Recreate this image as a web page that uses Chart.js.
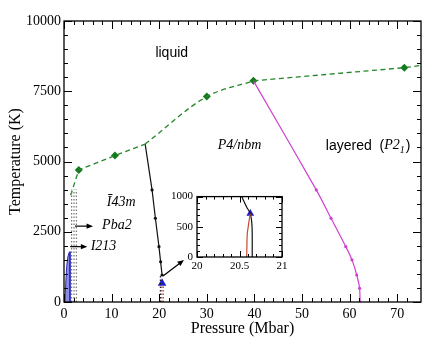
<!DOCTYPE html>
<html>
<head>
<meta charset="utf-8">
<script src="https://cdn.jsdelivr.net/npm/chart.js@4.4.1/dist/chart.umd.min.js"></script>
<style>
  html, body { margin: 0; padding: 0; background: #fff; }
  #wrap { position: relative; width: 438px; height: 342px; }
  #main { position: absolute; left: 0; top: 0; }
  #inset { position: absolute; left: 160px; top: 186px; }
</style>
</head>
<body>
<div id="wrap">
  <canvas id="main" width="438" height="342"></canvas>
  <canvas id="inset" width="132" height="92"></canvas>
</div>
<script>
// melting line (green dashed): straight part, curved part, straight tail
const meltP1 = [1.4, 3.1, 10.7, 17.05];
const meltT1 = [3800, 4700, 5210, 5620];
const meltP2 = [17.05, 30.0, 39.8];
const meltT2 = [5620, 7310, 7870];
const meltP3 = [39.8, 71.5, 75];
const meltT3 = [7870, 8340, 8420];
const meltMarkP = [3.1, 10.7, 30.0, 39.8, 71.5];
const meltMarkT = [4700, 5210, 7310, 7870, 8340];

// I-43m / P4/nbm boundary (black)
const bndP = [17.05, 18.5, 19.2, 19.95, 20.3, 20.6];
const bndT = [5620, 3990, 2980, 1970, 1430, 960];

// P4/nbm / layered boundary (magenta)
const layP = [39.8, 53.0, 56.1, 59.2, 60.5, 61.5, 62.1, 62.2];
const layT = [7870, 3990, 2980, 1970, 1500, 960, 490, 0];

// blue region at low pressure
const blueP = [0.2, 0.35, 0.56, 0.8, 1.05, 1.26, 1.26];
const blueT = [0, 600, 1260, 1600, 1750, 1790, 0];

// dotted verticals
const greyDotP = [1.6, 2.1, 2.6];
const greyDotTop = 4000;
const blackDotP = 20.25, blackDotTop = 950;
const redDotP = [20.55, 20.85];
const redDotTop = 600;
const triP = 20.6, triT = 670;

// inset
const inBlackP = [20.526, 20.59, 20.627, 20.647, 20.65];
const inBlackT = [1000, 812, 719, 526, 0];
const inRedP = [20.627, 20.6, 20.588, 20.585];
const inRedT = [719, 473, 265, 0];
const inTriP = 20.627, inTriT = 719;

const xTickLabels = [0, 10, 20, 30, 40, 50, 60, 70];
const yTickLabels = [0, 2500, 5000, 7500, 10000];

const SERIF = '"Liberation Serif", "DejaVu Serif", serif';
const SANS = '"Liberation Sans", Arial, sans-serif';
const GREEN = '#23872a';
const MAGENTA = '#d040d0';

function pts(xs, ys) {
  return xs.map((x, i) => ({ x: x, y: ys[i] }));
}

function vline(x, top, color) {
  return {
    data: [{ x: x, y: 0 }, { x: x, y: top }],
    showLine: true, borderColor: color, borderWidth: 1.2,
    borderDash: [1.5, 2], pointRadius: 0
  };
}

function greenLine(xs, ys, mode) {
  return {
    data: pts(xs, ys), showLine: true, borderColor: GREEN, borderWidth: 1.3,
    borderDash: [5, 3.5], cubicInterpolationMode: mode, pointRadius: 0
  };
}

// inward ticks on all four sides plus a closed frame
function frameTicks(major, minor, xMajor, yMajor) {
  return {
    id: 'frameTicks',
    afterDraw(chart) {
      const ctx = chart.ctx;
      const a = chart.chartArea;
      const xs = chart.scales.x, ys = chart.scales.y;
      ctx.save();
      ctx.strokeStyle = '#000';
      ctx.lineWidth = 1.3;
      ctx.strokeRect(a.left, a.top, a.right - a.left, a.bottom - a.top);
      ctx.lineWidth = 1;
      ctx.beginPath();
      xs.ticks.forEach(t => {
        const r = t.value / xs.options.ticks.stepSize;
        if (Math.abs(r - Math.round(r)) > 1e-6) return;
        const isMajor = Math.abs(t.value / xMajor - Math.round(t.value / xMajor)) < 1e-6;
        const len = isMajor ? major : minor;
        const px = Math.round(xs.getPixelForValue(t.value)) + 0.5;
        ctx.moveTo(px, a.bottom); ctx.lineTo(px, a.bottom - len);
        ctx.moveTo(px, a.top); ctx.lineTo(px, a.top + len);
      });
      ys.ticks.forEach(t => {
        const isMajor = Math.abs(t.value / yMajor - Math.round(t.value / yMajor)) < 1e-6;
        const len = isMajor ? major : minor;
        const py = Math.round(ys.getPixelForValue(t.value)) + 0.5;
        ctx.moveTo(a.left, py); ctx.lineTo(a.left + len, py);
        ctx.moveTo(a.right, py); ctx.lineTo(a.right - len, py);
      });
      ctx.stroke();
      ctx.restore();
    }
  };
}

// text labels and arrows placed in data coordinates
const notes = {
  id: 'notes',
  afterDraw(chart) {
    const ctx = chart.ctx;
    const xs = chart.scales.x, ys = chart.scales.y;
    const X = v => xs.getPixelForValue(v), Y = v => ys.getPixelForValue(v);
    ctx.save();
    ctx.fillStyle = '#000';
    ctx.textBaseline = 'middle';
    ctx.font = '14px ' + SANS;
    ctx.fillText('liquid', X(19.2), Y(8860));
    ctx.font = 'italic 14px ' + SERIF;
    ctx.fillText('P4/nbm', X(32.3), Y(5580));
    ctx.fillText('Ī43m', X(9.0), Y(3550));
    ctx.fillText('Pba2', X(8.0), Y(2720));
    ctx.fillText('I213', X(5.6), Y(1970));
    // layered (P2_1)
    ctx.font = '14px ' + SANS;
    let x0 = X(55.0);
    ctx.fillText('layered  (', x0, Y(5560));
    x0 += ctx.measureText('layered  (').width;
    ctx.font = 'italic 14px ' + SERIF;
    ctx.fillText('P2', x0, Y(5580));
    x0 += ctx.measureText('P2').width;
    ctx.font = 'italic 10px ' + SERIF;
    ctx.fillText('1', x0, Y(5380));
    x0 += ctx.measureText('1').width + 1;
    ctx.font = '14px ' + SANS;
    ctx.fillText(')', x0, Y(5560));

    // arrows
    const arrows = [[2.3, 2700, 6.1, 2700], [1.3, 1970, 4.9, 1970], [20.8, 925, 25.2, 1495]];
    ctx.strokeStyle = '#000';
    ctx.lineWidth = 1.2;
    arrows.forEach(a => {
      const x1 = X(a[0]), y1 = Y(a[1]), x2 = X(a[2]), y2 = Y(a[3]);
      const ang = Math.atan2(y2 - y1, x2 - x1);
      ctx.beginPath();
      ctx.moveTo(x1, y1); ctx.lineTo(x2 - 4 * Math.cos(ang), y2 - 4 * Math.sin(ang));
      ctx.stroke();
      ctx.beginPath();
      ctx.moveTo(x2, y2);
      ctx.lineTo(x2 - 7 * Math.cos(ang - 0.4), y2 - 7 * Math.sin(ang - 0.4));
      ctx.lineTo(x2 - 7 * Math.cos(ang + 0.4), y2 - 7 * Math.sin(ang + 0.4));
      ctx.closePath();
      ctx.fill();
    });
    ctx.restore();
  }
};

const mainDatasets = [
  {
    data: pts(blueP, blueT), showLine: true, fill: 'origin',
    backgroundColor: 'rgba(90,90,220,0.7)', borderColor: '#2a2ab0', borderWidth: 1,
    pointRadius: 0
  },
  ...greyDotP.map(p => vline(p, greyDotTop, '#777')),
  vline(blackDotP, blackDotTop, '#222'),
  ...redDotP.map(p => vline(p, redDotTop, '#c0392b')),
  greenLine(meltP1, meltT1, 'default'),
  greenLine(meltP2, meltT2, 'monotone'),
  greenLine(meltP3, meltT3, 'default'),
  {
    data: pts(bndP, bndT), showLine: true, borderColor: '#111', borderWidth: 1.2,
    pointRadius: [0, 1.6, 1.6, 1.6, 1.6, 1.6], pointBackgroundColor: '#111', pointBorderWidth: 0
  },
  {
    data: pts(layP, layT), showLine: true, borderColor: MAGENTA, borderWidth: 1.2,
    tension: 0.25,
    pointRadius: [0, 1.6, 1.6, 1.6, 1.6, 1.6, 1.6, 1.6], pointBackgroundColor: MAGENTA, pointBorderWidth: 0
  },
  {
    data: pts(meltMarkP, meltMarkT), pointStyle: 'rectRot', pointRadius: 4,
    pointBackgroundColor: '#157a1c', pointBorderColor: '#157a1c', pointBorderWidth: 0
  },
  {
    data: [{ x: triP, y: triT }], pointStyle: 'triangle', pointRadius: 5,
    pointBackgroundColor: '#1f1fc8', pointBorderColor: '#1f1fc8', pointBorderWidth: 0
  }
];

new Chart(document.getElementById('main'), {
  type: 'scatter',
  data: { datasets: mainDatasets },
  options: {
    responsive: false,
    animation: false,
    devicePixelRatio: 1,
    layout: { padding: { top: 21, right: 17, left: 0, bottom: 0 } },
    plugins: { legend: { display: false }, tooltip: { enabled: false } },
    scales: {
      x: {
        min: 0, max: 75,
        grid: { display: false, drawTicks: false },
        border: { display: false },
        ticks: {
          stepSize: 2, autoSkip: false, maxRotation: 0, padding: 4,
          color: '#000', font: { family: SERIF, size: 14 },
          callback: v => xTickLabels.includes(v) ? String(v) : ''
        },
        title: { display: true, text: 'Pressure (Mbar)', color: '#000',
          font: { family: SERIF, size: 16 }, padding: { top: 4, bottom: 4 } },
        afterFit: s => { s.height = 40; }
      },
      y: {
        min: 0, max: 10000,
        grid: { display: false, drawTicks: false },
        border: { display: false },
        ticks: {
          stepSize: 500, autoSkip: false, padding: 3,
          color: '#000', font: { family: SERIF, size: 14 },
          callback: v => yTickLabels.includes(v) ? String(v) : ''
        },
        title: { display: true, text: 'Temperature (K)', color: '#000',
          font: { family: SERIF, size: 16 }, padding: { top: 6, bottom: 0 } },
        afterFit: s => { s.width = 64; }
      }
    }
  },
  plugins: [frameTicks(8, 4, 10, 2500), notes]
});

// inset
const insetBg = {
  id: 'insetBg',
  beforeDraw(chart) {
    const a = chart.chartArea;
    chart.ctx.save();
    chart.ctx.fillStyle = '#fff';
    chart.ctx.fillRect(a.left, a.top, a.right - a.left, a.bottom - a.top);
    chart.ctx.restore();
  }
};

new Chart(document.getElementById('inset'), {
  type: 'scatter',
  data: {
    datasets: [
      {
        data: pts(inRedP, inRedT), showLine: true, borderColor: '#c84a30', borderWidth: 1.2,
        cubicInterpolationMode: 'monotone', pointRadius: 0
      },
      {
        data: pts(inBlackP, inBlackT), showLine: true, borderColor: '#111', borderWidth: 1.2,
        tension: 0.3, pointRadius: 0
      },
      {
        data: [{ x: inTriP, y: inTriT }], pointStyle: 'triangle', pointRadius: 4.5,
        pointBackgroundColor: '#1f1fc8', pointBorderColor: '#1f1fc8', pointBorderWidth: 0
      }
    ]
  },
  options: {
    responsive: false,
    animation: false,
    devicePixelRatio: 1,
    layout: { padding: { top: 7, right: 10, left: 0, bottom: 0 } },
    plugins: { legend: { display: false }, tooltip: { enabled: false } },
    scales: {
      x: {
        min: 20, max: 21,
        grid: { display: false, drawTicks: false },
        border: { display: false },
        ticks: {
          stepSize: 0.1, autoSkip: false, maxRotation: 0, padding: 3,
          color: '#000', font: { family: SERIF, size: 11 },
          callback: v => {
            const r = Math.round(v * 10) / 10;
            return (r === 20 || r === 20.5 || r === 21) ? String(r) : '';
          }
        },
        afterFit: s => { s.height = 21; }
      },
      y: {
        min: 0, max: 1000,
        grid: { display: false, drawTicks: false },
        border: { display: false },
        ticks: {
          stepSize: 100, autoSkip: false, padding: 4,
          color: '#000', font: { family: SERIF, size: 11 },
          callback: v => (v % 500 === 0) ? String(v) : ''
        },
        afterFit: s => { s.width = 37; }
      }
    }
  },
  plugins: [insetBg, frameTicks(6, 3, 0.5, 500)]
});
</script>
</body>
</html>
